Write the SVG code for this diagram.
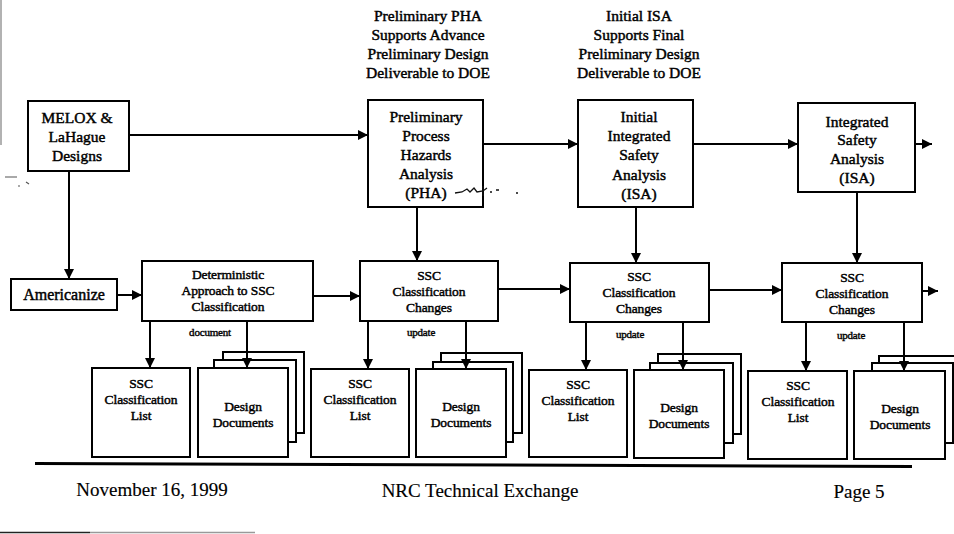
<svg xmlns="http://www.w3.org/2000/svg" width="954" height="534" viewBox="0 0 954 534">
  <defs>
    <marker id="arrow" markerUnits="userSpaceOnUse" markerWidth="10" markerHeight="10" refX="10" refY="5" orient="auto">
      <path d="M0,0 L10,5 L0,10 z" fill="#000"/>
    </marker>
    <style>
      .box { fill: #fff; stroke: #000; stroke-width: 2; }
      .conn line { stroke: #000; stroke-width: 2; marker-end: url(#arrow); }
      text { font-family: "Liberation Serif", "Times New Roman", serif; fill: #000; text-anchor: middle; }
      .big text, text.big { font-size: 15.5px; stroke: #000; stroke-width: 0.45; }
      .mid text { font-size: 13.5px; stroke: #000; stroke-width: 0.45; letter-spacing: -0.1px; }
      .tiny text { font-size: 11px; stroke: #000; stroke-width: 0.4; letter-spacing: -0.2px; }
      .foot text { font-size: 19px; stroke: #000; stroke-width: 0.15; }
    </style>
  </defs>
  <rect width="954" height="534" fill="#fff"/>

  <!-- page edge marks -->
  <line x1="1" y1="0" x2="1" y2="145" stroke="#999" stroke-width="1.5"/>
  <line x1="0" y1="532.5" x2="90" y2="532.5" stroke="#222" stroke-width="1.5"/>
  <line x1="90" y1="532.5" x2="255" y2="532.5" stroke="#999" stroke-width="1.5"/>
  <path d="M5,177 h12 M18,186 h2 M26,182 l3,2" stroke="#555" stroke-width="1.2" fill="none"/>

  <!-- milestone captions -->
  <g id="caption-pha" class="big">
    <text x="428" y="21">Preliminary PHA</text>
    <text x="428" y="40">Supports Advance</text>
    <text x="428" y="59">Preliminary Design</text>
    <text x="428" y="78">Deliverable to DOE</text>
  </g>
  <g id="caption-isa" class="big">
    <text x="639" y="21">Initial ISA</text>
    <text x="639" y="40">Supports Final</text>
    <text x="639" y="59">Preliminary Design</text>
    <text x="639" y="78">Deliverable to DOE</text>
  </g>

  <!-- top row -->
  <g id="melox" class="big">
    <rect class="box" x="28" y="101" width="101" height="70"/>
    <text x="77" y="123">MELOX &amp;</text>
    <text x="77" y="142">LaHague</text>
    <text x="77" y="161">Designs</text>
  </g>
  <g id="pha" class="big">
    <rect class="box" x="368" y="100" width="115" height="107"/>
    <text x="426" y="122">Preliminary</text>
    <text x="426" y="141">Process</text>
    <text x="426" y="160">Hazards</text>
    <text x="426" y="179">Analysis</text>
    <text x="426" y="198">(PHA)</text>
  </g>
  <g id="initial-isa" class="big">
    <rect class="box" x="578" y="100" width="115" height="107"/>
    <text x="639" y="122">Initial</text>
    <text x="639" y="141">Integrated</text>
    <text x="639" y="160">Safety</text>
    <text x="639" y="180">Analysis</text>
    <text x="639" y="199">(ISA)</text>
  </g>
  <g id="isa" class="big">
    <rect class="box" x="798" y="103" width="117" height="89"/>
    <text x="857" y="127">Integrated</text>
    <text x="857" y="145">Safety</text>
    <text x="857" y="164">Analysis</text>
    <text x="857" y="183">(ISA)</text>
  </g>
  <!-- pen mark beside PHA -->
  <path d="M455,193 l7,-1 l5,-3 l3,3 l4,-4 l3,4 l6,-1 l4,-3 M483,186 v10 M490,192 h2 M496,190 h3 M516,193 h2" stroke="#111" stroke-width="1.3" fill="none"/>

  <!-- middle row -->
  <g id="americanize" class="big">
    <rect class="box" x="11" y="279" width="106" height="31"/>
    <text x="64" y="300" style="font-size:16px">Americanize</text>
  </g>
  <g id="deterministic" class="mid">
    <rect class="box" x="142" y="261" width="171" height="60"/>
    <text x="228" y="279">Deterministic</text>
    <text x="228" y="295">Approach to SSC</text>
    <text x="228" y="311">Classification</text>
  </g>
  <g id="ssc-changes-1" class="mid">
    <rect class="box" x="360" y="261" width="138" height="60"/>
    <text x="429" y="280">SSC</text>
    <text x="429" y="296">Classification</text>
    <text x="429" y="312">Changes</text>
  </g>
  <g id="ssc-changes-2" class="mid">
    <rect class="box" x="570" y="263" width="139" height="59"/>
    <text x="639" y="281">SSC</text>
    <text x="639" y="297">Classification</text>
    <text x="639" y="313">Changes</text>
  </g>
  <g id="ssc-changes-3" class="mid">
    <rect class="box" x="782" y="263" width="140" height="59"/>
    <text x="852" y="282">SSC</text>
    <text x="852" y="298">Classification</text>
    <text x="852" y="314">Changes</text>
  </g>

  <!-- edge labels -->
  <g id="labels" class="tiny">
    <text x="210" y="336">document</text>
    <text x="421" y="336">update</text>
    <text x="630" y="338">update</text>
    <text x="851" y="339">update</text>
  </g>

  <!-- bottom row: lists -->
  <g id="ssc-list-1" class="mid">
    <rect class="box" x="92" y="368" width="98" height="89"/>
    <text x="141" y="388">SSC</text>
    <text x="141" y="404">Classification</text>
    <text x="141" y="420">List</text>
  </g>
  <g id="ssc-list-2" class="mid">
    <rect class="box" x="311" y="369" width="98" height="88"/>
    <text x="360" y="388">SSC</text>
    <text x="360" y="404">Classification</text>
    <text x="360" y="420">List</text>
  </g>
  <g id="ssc-list-3" class="mid">
    <rect class="box" x="529" y="370" width="98" height="87"/>
    <text x="578" y="389">SSC</text>
    <text x="578" y="405">Classification</text>
    <text x="578" y="421">List</text>
  </g>
  <g id="ssc-list-4" class="mid">
    <rect class="box" x="748" y="371" width="99" height="88"/>
    <text x="798" y="390">SSC</text>
    <text x="798" y="406">Classification</text>
    <text x="798" y="422">List</text>
  </g>

  <!-- bottom row: document stacks -->
  <g id="design-docs-1" class="mid">
    <rect class="box" x="223" y="352" width="81" height="81"/>
    <rect class="box" x="214" y="360" width="82" height="82"/>
    <rect class="box" x="198" y="368" width="90" height="89"/>
    <text x="243" y="411">Design</text>
    <text x="243" y="427">Documents</text>
  </g>
  <g id="design-docs-2" class="mid">
    <rect class="box" x="441" y="353" width="81" height="80"/>
    <rect class="box" x="433" y="362" width="80" height="80"/>
    <rect class="box" x="416" y="369" width="90" height="88"/>
    <text x="461" y="411">Design</text>
    <text x="461" y="427">Documents</text>
  </g>
  <g id="design-docs-3" class="mid">
    <rect class="box" x="658" y="354" width="83" height="80"/>
    <rect class="box" x="650" y="363" width="83" height="80"/>
    <rect class="box" x="634" y="370" width="90" height="88"/>
    <text x="679" y="412">Design</text>
    <text x="679" y="428">Documents</text>
  </g>
  <g id="design-docs-4" class="mid">
    <rect class="box" x="879" y="356" width="82" height="79"/>
    <rect class="box" x="872" y="363" width="81" height="80"/>
    <rect class="box" x="854" y="371" width="91" height="88"/>
    <text x="900" y="413">Design</text>
    <text x="900" y="429">Documents</text>
  </g>

  <!-- connectors -->
  <g id="connectors" class="conn">
    <line x1="129" y1="135" x2="368" y2="135"/>
    <line x1="483" y1="144" x2="578" y2="144"/>
    <line x1="693" y1="144" x2="798" y2="144"/>
    <line x1="915" y1="144" x2="932" y2="144"/>
    <line x1="69" y1="171" x2="69" y2="279"/>
    <line x1="417" y1="207" x2="417" y2="261"/>
    <line x1="636" y1="207" x2="636" y2="263"/>
    <line x1="857" y1="192" x2="857" y2="263"/>
    <line x1="117" y1="295" x2="142" y2="295"/>
    <line x1="313" y1="296" x2="360" y2="296"/>
    <line x1="498" y1="289" x2="570" y2="289"/>
    <line x1="709" y1="290" x2="782" y2="290"/>
    <line x1="922" y1="291" x2="938" y2="291"/>
    <line x1="150" y1="321" x2="150" y2="368"/>
    <line x1="247" y1="321" x2="247" y2="368"/>
    <line x1="368" y1="321" x2="368" y2="369"/>
    <line x1="466" y1="321" x2="466" y2="369"/>
    <line x1="586" y1="322" x2="586" y2="370"/>
    <line x1="683" y1="322" x2="683" y2="370"/>
    <line x1="806" y1="322" x2="806" y2="371"/>
    <line x1="904" y1="322" x2="904" y2="371"/>
  </g>

  <!-- footer -->
  <line x1="35" y1="463.5" x2="912" y2="466.5" stroke="#000" stroke-width="3"/>
  <g id="footer" class="foot">
    <text x="152" y="496">November 16, 1999</text>
    <text x="480" y="497">NRC Technical Exchange</text>
    <text x="859" y="498">Page 5</text>
  </g>
</svg>
